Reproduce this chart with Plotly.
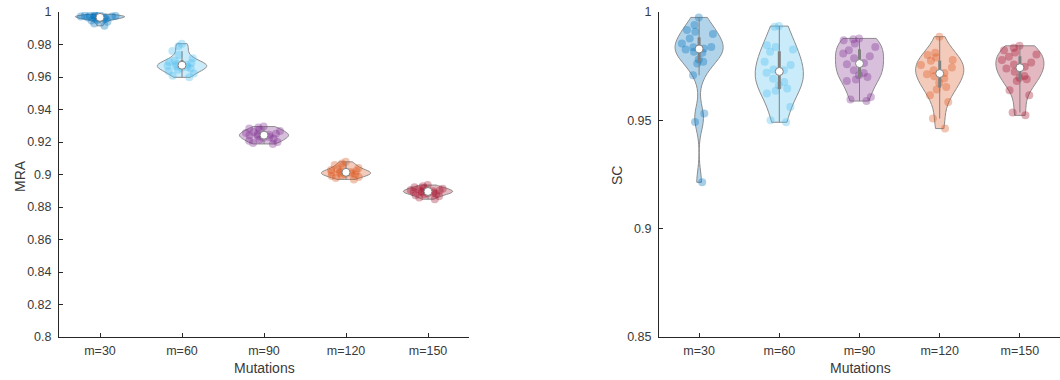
import numpy as np
import plotly.graph_objects as go

# Mutation-count groups and per-run scores
categories = ["m=30", "m=60", "m=90", "m=120", "m=150"]

mra_m30 = [0.9986, 0.9980, 0.9979, 0.9978, 0.9976, 0.9975, 0.9973, 0.9972, 0.9970, 0.9968,
           0.9966, 0.9964, 0.9962, 0.9960, 0.9957, 0.9953, 0.9948, 0.9940, 0.9930, 0.9915]
mra_m60 = [0.9805, 0.9790, 0.9760, 0.9735, 0.9715, 0.9700, 0.9692, 0.9686, 0.9680, 0.9675,
           0.9670, 0.9666, 0.9662, 0.9657, 0.9652, 0.9645, 0.9635, 0.9622, 0.9608, 0.9598]
mra_m90 = [0.9295, 0.9290, 0.9283, 0.9275, 0.9268, 0.9262, 0.9256, 0.9251, 0.9247, 0.9244,
           0.9240, 0.9236, 0.9231, 0.9226, 0.9220, 0.9214, 0.9207, 0.9200, 0.9194, 0.9188]
mra_m120 = [0.9078, 0.9068, 0.9058, 0.9048, 0.9040, 0.9033, 0.9027, 0.9022, 0.9018, 0.9015,
            0.9012, 0.9009, 0.9006, 0.9003, 0.9000, 0.8996, 0.8991, 0.8985, 0.8978, 0.8970]
mra_m150 = [0.8935, 0.8928, 0.8922, 0.8917, 0.8912, 0.8908, 0.8905, 0.8902, 0.8899, 0.8897,
            0.8894, 0.8891, 0.8888, 0.8885, 0.8882, 0.8878, 0.8873, 0.8866, 0.8858, 0.8848]

sc_m30 = [0.9975, 0.9940, 0.9917, 0.9909, 0.9898, 0.9878, 0.9855, 0.9839, 0.9837, 0.9832,
          0.9827, 0.9816, 0.9812, 0.9781, 0.9770, 0.9762, 0.9708, 0.9531, 0.9492, 0.9214]
sc_m60 = [0.9935, 0.9932, 0.9847, 0.9839, 0.9827, 0.9816, 0.9770, 0.9755, 0.9735, 0.9731,
          0.9720, 0.9692, 0.9677, 0.9662, 0.9647, 0.9636, 0.9624, 0.9562, 0.9500, 0.9491]
sc_m90 = [0.9878, 0.9874, 0.9870, 0.9855, 0.9839, 0.9824, 0.9809, 0.9796, 0.9786, 0.9765,
          0.9759, 0.9731, 0.9719, 0.9708, 0.9700, 0.9688, 0.9682, 0.9608, 0.9596, 0.9589]
sc_m120 = [0.9886, 0.9812, 0.9801, 0.9790, 0.9778, 0.9775, 0.9755, 0.9744, 0.9731, 0.9719,
           0.9713, 0.9704, 0.9693, 0.9673, 0.9654, 0.9642, 0.9616, 0.9585, 0.9508, 0.9462]
sc_m150 = [0.9844, 0.9835, 0.9824, 0.9813, 0.9804, 0.9793, 0.9778, 0.9767, 0.9758, 0.9747,
           0.9739, 0.9724, 0.9705, 0.9696, 0.9690, 0.9681, 0.9639, 0.9616, 0.9536, 0.9523]

mra_groups = [mra_m30, mra_m60, mra_m90, mra_m120, mra_m150]
sc_groups = [sc_m30, sc_m60, sc_m90, sc_m120, sc_m150]

mra_ticks = [0.8, 0.82, 0.84, 0.86, 0.88, 0.9, 0.92, 0.94, 0.96, 0.98, 1.0]
mra_ticktext = ["0.8", "0.82", "0.84", "0.86", "0.88", "0.9", "0.92", "0.94", "0.96", "0.98", "1"]
sc_ticks = [0.85, 0.9, 0.95, 1.0]
sc_ticktext = ["0.85", "0.9", "0.95", "1"]

colors = [(0, 114, 189), (77, 190, 238), (126, 47, 142), (217, 83, 25), (162, 20, 47)]

EDGE = "#8c8c8c"
BOXC = "#808080"
AXC = "#262626"
TXT = "#3a3a3a"
FONT = "Liberation Sans, Arial, sans-serif"


def rgba(c, a):
    return f"rgba({c[0]},{c[1]},{c[2]},{a})"


def add_panel(fig, groups, xa, ya):
    for cat, vals, col in zip(categories, groups, colors):
        fig.add_trace(go.Violin(
            x=[cat] * len(vals), y=vals, xaxis=xa, yaxis=ya,
            spanmode="hard", scalemode="width", width=0.6,
            fillcolor=rgba(col, 0.3), line=dict(color=EDGE, width=1),
            points="all", pointpos=0, jitter=0.8,
            marker=dict(color=rgba(col, 0.35), size=8, line=dict(width=0)),
            box_visible=False, meanline_visible=False,
            showlegend=False, hoverinfo="y",
        ))
    for cat, vals in zip(categories, groups):
        v = np.asarray(vals)
        q1, med, q3 = np.percentile(v, [25, 50, 75])
        iqr = q3 - q1
        lo = v[v >= q1 - 1.5 * iqr].min()
        hi = v[v <= q3 + 1.5 * iqr].max()
        fig.add_trace(go.Scatter(x=[cat, cat], y=[lo, hi], mode="lines", xaxis=xa, yaxis=ya,
                                 line=dict(color=BOXC, width=1), showlegend=False, hoverinfo="skip"))
        fig.add_trace(go.Scatter(x=[cat, cat], y=[q1, q3], mode="lines", xaxis=xa, yaxis=ya,
                                 line=dict(color=BOXC, width=3), showlegend=False, hoverinfo="skip"))
        fig.add_trace(go.Scatter(x=[cat], y=[med], mode="markers", xaxis=xa, yaxis=ya,
                                 marker=dict(color="white", size=8, line=dict(color=BOXC, width=1)),
                                 showlegend=False, hoverinfo="y"))


fig = go.Figure()
add_panel(fig, mra_groups, "x", "y")
add_panel(fig, sc_groups, "x2", "y2")

xcommon = dict(type="category", categoryorder="array", categoryarray=categories,
               range=[-0.5, 4.5], showline=True, linecolor=AXC, linewidth=1, automargin=False,
               ticks="inside", ticklen=4, tickcolor=AXC, showgrid=False, zeroline=False,
               ticklabelstandoff=2, tickfont=dict(family=FONT, size=12.5, color=TXT))
ycommon = dict(showline=True, linecolor=AXC, linewidth=1, ticks="inside", ticklen=4,
               automargin=False, tickcolor=AXC, showgrid=False, zeroline=False,
               ticklabelstandoff=4, tickfont=dict(family=FONT, size=12.5, color=TXT))

W, H = 1060, 380
label_font = dict(family=FONT, size=14, color=TXT)
fig.update_layout(
    width=W, height=H, margin=dict(l=0, r=0, t=0, b=0, autoexpand=False),
    paper_bgcolor="white", plot_bgcolor="white", violinmode="overlay",
    xaxis=dict(domain=[59 / W, 469 / W], anchor="y", **xcommon),
    yaxis=dict(domain=[1 - 337 / H, 1 - 12 / H], anchor="x", range=[0.8, 1.0],
               tickvals=mra_ticks, ticktext=mra_ticktext, **ycommon),
    xaxis2=dict(domain=[659 / W, 1.0], anchor="y2", **xcommon),
    yaxis2=dict(domain=[1 - 337 / H, 1 - 12 / H], anchor="x2", range=[0.85, 1.0],
                tickvals=sc_ticks, ticktext=sc_ticktext, **ycommon),
    annotations=[
        dict(text="MRA", x=20 / W, y=1 - 176 / H, xref="paper", yref="paper", textangle=-90,
             xanchor="center", yanchor="middle", showarrow=False, font=label_font),
        dict(text="SC", x=617 / W, y=1 - 176 / H, xref="paper", yref="paper", textangle=-90,
             xanchor="center", yanchor="middle", showarrow=False, font=label_font),
        dict(text="Mutations", x=264 / W, y=1 - 368 / H, xref="paper", yref="paper",
             xanchor="center", yanchor="middle", showarrow=False, font=label_font),
        dict(text="Mutations", x=860 / W, y=1 - 368 / H, xref="paper", yref="paper",
             xanchor="center", yanchor="middle", showarrow=False, font=label_font),
    ],
)

fig.write_html("out.html")
